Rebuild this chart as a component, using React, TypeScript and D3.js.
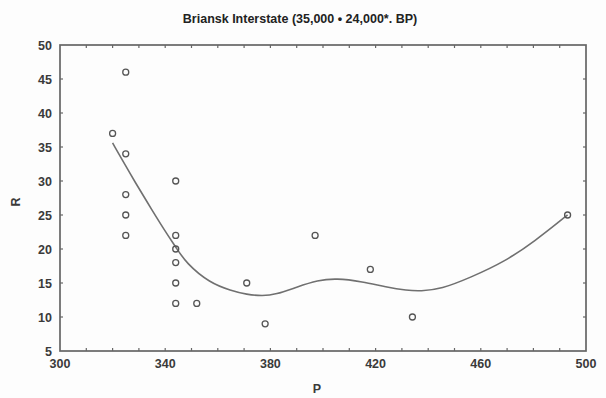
import React from "react";
import * as d3 from "d3";

// Observed sites: P (x) vs R (y)
const pValues = [320, 325, 325, 325, 325, 325, 344, 344, 344, 344, 344, 344, 352, 371, 378, 397, 418, 434, 493];
const rValues = [37, 46, 34, 28, 25, 22, 30, 22, 20, 18, 15, 12, 12, 15, 9, 22, 17, 10, 25];

// Smoothed fit through the scatter
const fitP = [320, 325, 328, 335, 341, 344, 348, 357, 365, 371, 377, 382, 390, 398, 405, 415, 424, 432, 437, 445, 456, 469, 481, 491, 493];
const fitR = [35.6, 32.2, 30.2, 25.7, 22.0, 20.3, 17.9, 15.0, 13.9, 13.3, 13.1, 13.3, 14.4, 15.4, 15.7, 15.2, 14.4, 13.9, 13.8, 14.1, 15.8, 18.1, 21.3, 24.4, 25];

const xTickLabels = [300, 340, 380, 420, 460, 500];
const yTickLabels = [5, 10, 15, 20, 25, 30, 35, 40, 45, 50];

const W = 606;
const H = 398;
const left = 60;
const right = 586;
const top = 45;
const bottom = 351;

export default function App() {
  const x = d3.scaleLinear().domain([300, 500]).range([left, right]);
  const y = d3.scaleLinear().domain([5, 50]).range([bottom, top]);

  const line = d3
    .line<number>()
    .x((_, i) => x(fitP[i]))
    .y((_, i) => y(fitR[i]))
    .curve(d3.curveBasis);

  const minorX = d3.range(310, 500, 10);
  const axisColor = "#666";
  const labelColor = "#3a3a3a";
  const font = "'Liberation Sans', Arial, sans-serif";

  return (
    <svg
      width={W}
      height={H}
      viewBox={`0 0 ${W} ${H}`}
      style={{ position: "absolute", left: 0, top: 0, background: "#fdfdfd" }}
    >
      <text
        x={300}
        y={23}
        textAnchor="middle"
        fontFamily={font}
        fontWeight="bold"
        fontSize={12.5}
        fill="#222"
      >
        Briansk Interstate (35,000 • 24,000*. BP)
      </text>

      {/* frame */}
      <rect
        x={left}
        y={top}
        width={right - left}
        height={bottom - top}
        fill="none"
        stroke={axisColor}
        strokeWidth={1.7}
      />

      {/* inward ticks on x edges */}
      {minorX.map((v) => (
        <g key={"xt" + v} stroke={axisColor} strokeWidth={1.2}>
          <line x1={x(v)} x2={x(v)} y1={bottom} y2={bottom - 3} />
          <line x1={x(v)} x2={x(v)} y1={top} y2={top + 3} />
        </g>
      ))}
      {/* inward ticks on y edges */}
      {yTickLabels.slice(1, -1).map((v) => (
        <g key={"yt" + v} stroke={axisColor} strokeWidth={1.2}>
          <line x1={left} x2={left + 3} y1={y(v)} y2={y(v)} />
          <line x1={right} x2={right - 3} y1={y(v)} y2={y(v)} />
        </g>
      ))}

      {/* y tick labels */}
      {yTickLabels.map((v) => (
        <text
          key={"yl" + v}
          x={52}
          y={y(v) + 4.5}
          textAnchor="end"
          fontFamily={font}
          fontWeight="bold"
          fontSize={12.5}
          fill={labelColor}
        >
          {v}
        </text>
      ))}

      {/* x tick labels */}
      {xTickLabels.map((v) => (
        <text
          key={"xl" + v}
          x={x(v)}
          y={368}
          textAnchor="middle"
          fontFamily={font}
          fontWeight="bold"
          fontSize={12.5}
          fill={labelColor}
        >
          {v}
        </text>
      ))}

      {/* axis titles */}
      <text
        x={317}
        y={393}
        textAnchor="middle"
        fontFamily={font}
        fontWeight="bold"
        fontSize={12.5}
        fill={labelColor}
      >
        P
      </text>
      <text
        transform="translate(20,202) rotate(-90)"
        textAnchor="middle"
        fontFamily={font}
        fontWeight="bold"
        fontSize={12.5}
        fill={labelColor}
      >
        R
      </text>

      {/* fitted curve */}
      <path d={line(fitP) || ""} fill="none" stroke="#707070" strokeWidth={1.6} />

      {/* data points */}
      {pValues.map((p, i) => (
        <circle
          key={"pt" + i}
          cx={x(p)}
          cy={y(rValues[i])}
          r={3}
          fill="none"
          stroke="#555"
          strokeWidth={1.3}
        />
      ))}
    </svg>
  );
}
